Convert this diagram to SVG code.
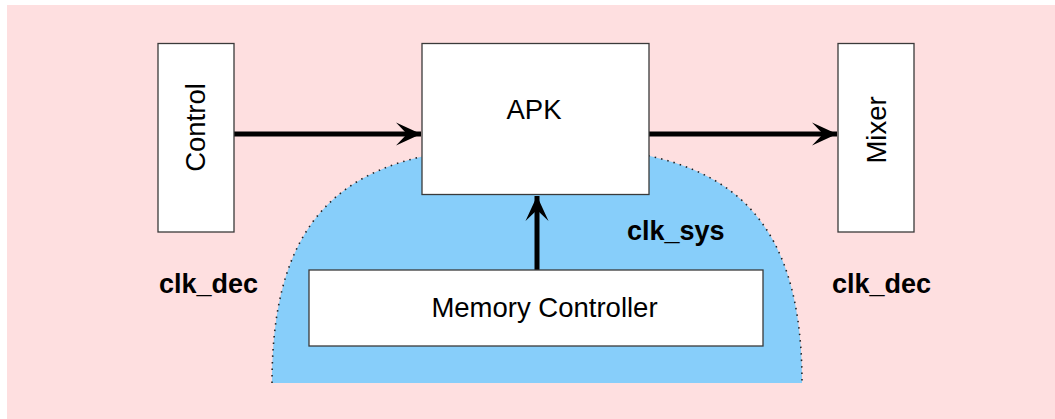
<svg xmlns="http://www.w3.org/2000/svg" width="1055" height="419" viewBox="0 0 1055 419">
<style>
.box{fill:#ffffff;stroke:#3a3a3a;stroke-width:1.3}
.lbl{font-family:"Liberation Sans",Arial,sans-serif;font-size:27.5px;fill:#000}
.clk{font-family:"Liberation Sans",Arial,sans-serif;font-size:27px;font-weight:bold;fill:#000}
.conn{stroke:#000;stroke-width:5;fill:none}
</style>
<defs>
<marker id="ah" viewBox="0 0 26 24" refX="25" refY="12" markerWidth="26" markerHeight="24" markerUnits="userSpaceOnUse" orient="auto">
<path d="M25,12 L0,0.5 L11,12 L0,23.5 Z" fill="#000"/>
</marker>
</defs>
<rect x="7" y="5" width="1048" height="414" fill="#fedfe0"/>
<g id="clk_sys_region">
<path d="M272,383 C272,190 370,146 537,146 C704,146 802,190 802,383 Z" fill="#87cefa"/>
<path d="M272,383 C272,190 370,146 537,146 C704,146 802,190 802,383" fill="none" stroke="#222" stroke-width="1.6" stroke-dasharray="1.5 5"/>
</g>
<g id="connectors">
<line class="conn" x1="234" y1="134" x2="421" y2="134" marker-end="url(#ah)"/>
<line class="conn" x1="649" y1="134" x2="837" y2="134" marker-end="url(#ah)"/>
<line class="conn" x1="537" y1="270" x2="537" y2="196" marker-end="url(#ah)"/>
</g>
<g id="control">
<rect class="box" x="158" y="43.5" width="76" height="188.5"/>
<text class="lbl" transform="translate(205,127.5) rotate(-90)" text-anchor="middle">Control</text>
</g>
<g id="apk">
<rect class="box" x="422" y="43.5" width="227" height="151"/>
<text class="lbl" x="534" y="119" text-anchor="middle">APK</text>
</g>
<g id="mixer">
<rect class="box" x="838" y="43.5" width="76" height="188.5"/>
<text class="lbl" transform="translate(886,130) rotate(-90)" text-anchor="middle">Mixer</text>
</g>
<g id="memory_controller">
<rect class="box" x="309" y="270" width="454" height="76"/>
<text class="lbl" x="544.5" y="317" text-anchor="middle">Memory Controller</text>
</g>
<g id="labels">
<text class="clk" x="159" y="293">clk_dec</text>
<text class="clk" x="832" y="293">clk_dec</text>
<text class="clk" x="627" y="240">clk_sys</text>
</g>
</svg>
